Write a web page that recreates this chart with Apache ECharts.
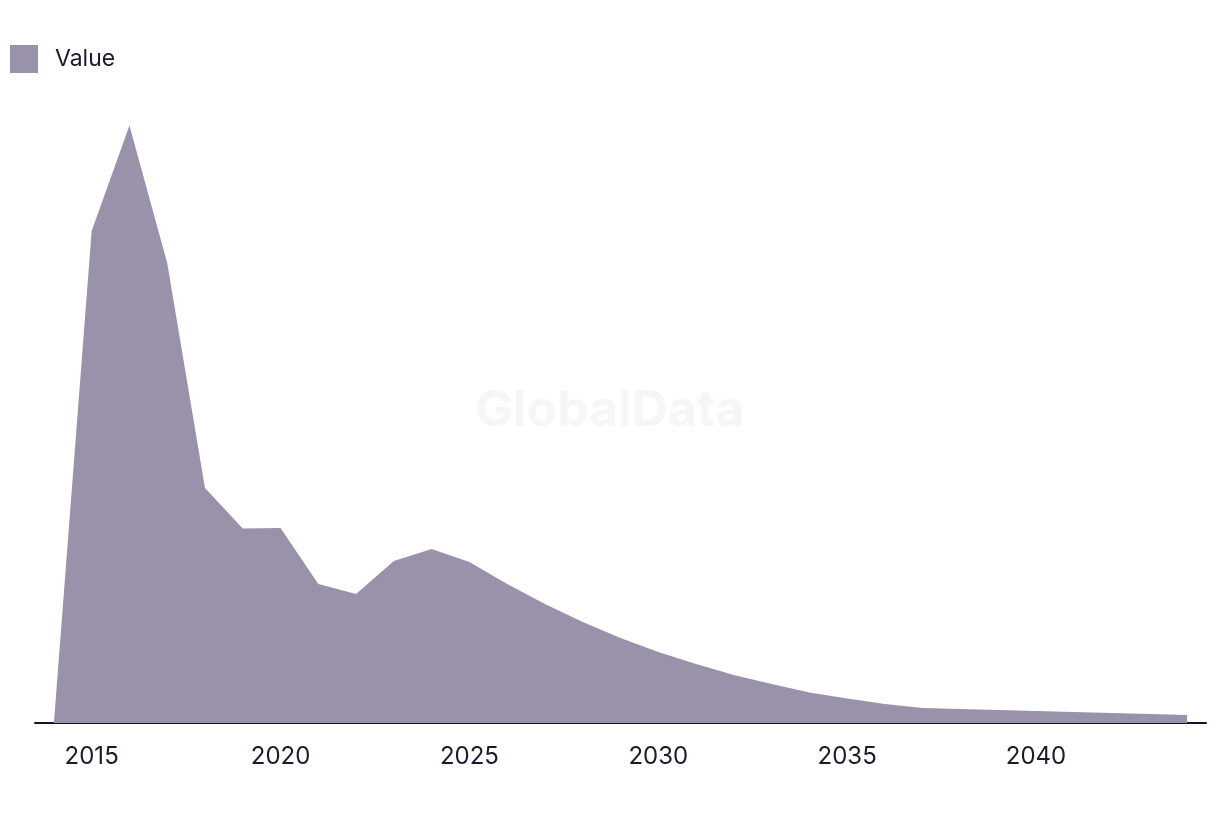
<!DOCTYPE html>
<html>
<head>
<meta charset="utf-8">
<script src="https://cdn.jsdelivr.net/npm/echarts@6/dist/echarts.min.js"></script>
<style>
html,body{margin:0;padding:0;background:#fff;}
#chart{width:1220px;height:814px;}
</style>
</head>
<body>
<div id="chart"></div>
<script>
const years = ['2014','2015','2016','2017','2018','2019','2020','2021','2022','2023','2024','2025','2026','2027','2028','2029','2030','2031','2032','2033','2034','2035','2036','2037','2038','2039','2040','2041','2042','2043','2044'];
const values = [0, 49.2, 59.75, 46, 23.5, 19.45, 19.5, 13.9, 12.9, 16.2, 17.4, 16.1, 13.9, 11.9, 10.1, 8.5, 7.1, 5.9, 4.8, 3.9, 3.05, 2.45, 1.9, 1.5, 1.4, 1.3, 1.2, 1.1, 1.0, 0.9, 0.8];
const seriesName = 'Value';

const chart = echarts.init(document.getElementById('chart'), null, {renderer: 'canvas'});
const FONT = 'Inter, "Liberation Sans", sans-serif';
chart.setOption({
  animation: false,
  backgroundColor: '#ffffff',
  graphic: [{
    type: 'text',
    left: 'center',
    top: 386,
    z: 0,
    style: {
      text: 'GlobalData',
      fontFamily: FONT,
      fontWeight: 'bold',
      fontSize: 50,
      fill: '#f6f6f6'
    }
  }],
  legend: {
    left: 10,
    top: 45,
    padding: 0,
    itemWidth: 28,
    itemHeight: 28,
    itemGap: 20,
    icon: 'rect',
    textStyle: {fontFamily: FONT, fontSize: 23, color: '#1c1b2e', padding: [0,0,0,12]},
    data: [seriesName]
  },
  grid: {left: 35, right: 14, top: 123, bottom: 91, containLabel: false},
  xAxis: {
    type: 'category',
    data: years,
    boundaryGap: true,
    axisLine: {show: true, lineStyle: {color: '#16142a', width: 2}},
    axisTick: {show: false},
    axisLabel: {
      interval: function (i, v) { return Number(v) % 5 === 0; },
      fontFamily: FONT,
      fontSize: 24,
      color: '#1c1b2e',
      margin: 22
    },
    splitLine: {show: false}
  },
  yAxis: {
    type: 'value',
    min: 0,
    max: 60,
    show: false,
    splitLine: {show: false}
  },
  series: [{
    name: seriesName,
    type: 'line',
    data: values,
    symbol: 'none',
    z: 2,
    lineStyle: {width: 0, color: '#9a91aa'},
    itemStyle: {color: '#9a91aa'},
    areaStyle: {color: '#9a91aa', opacity: 1}
  }]
});
</script>
</body>
</html>
